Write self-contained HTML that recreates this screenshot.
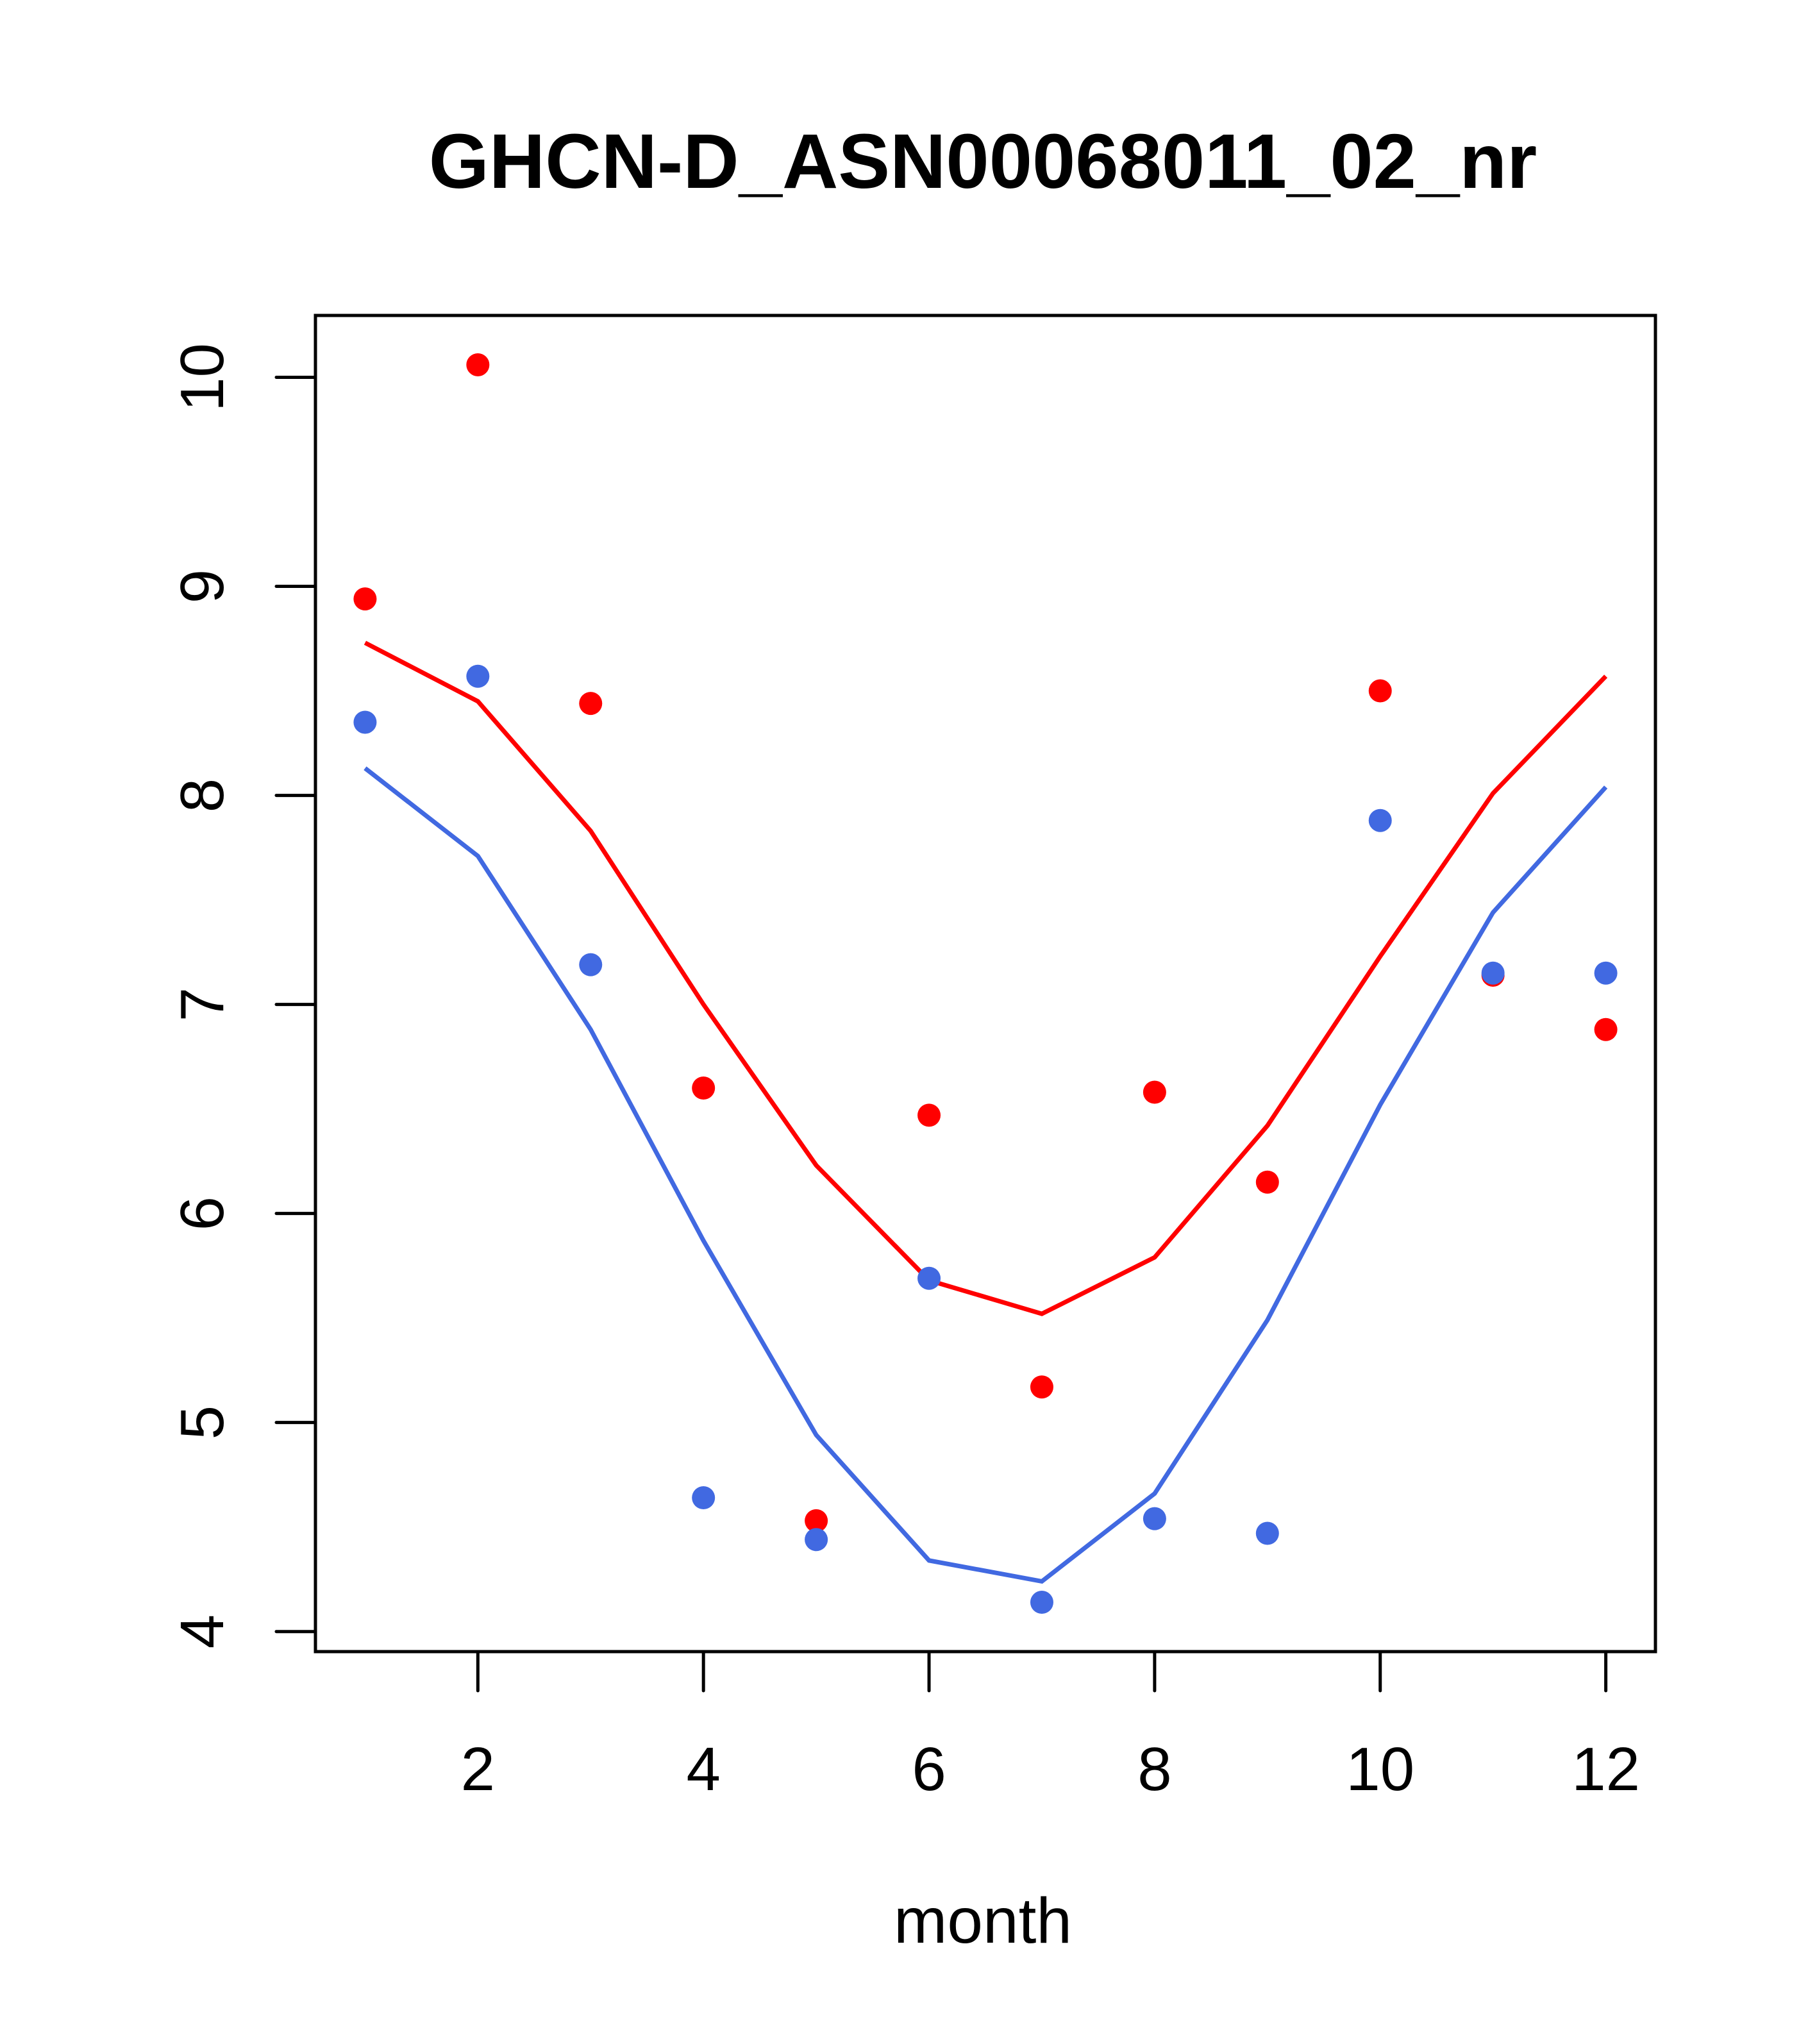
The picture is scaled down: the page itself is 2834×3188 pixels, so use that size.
<!DOCTYPE html>
<html><head><meta charset="utf-8"><style>
html,body{margin:0;padding:0;background:#fff;}
svg{display:block;font-family:"Liberation Sans",Arial,sans-serif;}
</style></head><body>
<svg id="chart" width="2834" height="3188" viewBox="0 0 2834 3188">
<text x="1533" y="293" text-anchor="middle" font-size="121" font-weight="bold">GHCN-D_ASN00068011_02_nr</text>
<rect x="492" y="492" width="2090" height="2084" fill="none" stroke="#000" stroke-width="5"/>
<g id="axes"></g>
<g id="series"></g>
<text x="1533" y="3030" text-anchor="middle" font-size="100">month</text>
</svg>
<script>
const months = [1,2,3,4,5,6,7,8,9,10,11,12];
const redPoints = [8.94,10.06,8.44,6.60,4.53,6.47,5.17,6.58,6.15,8.50,7.14,6.88];
const bluePoints = [8.35,8.57,7.19,4.64,4.44,5.69,4.14,4.54,4.47,7.88,7.15,7.15];
const redLine = [8.73,8.45,7.83,7.00,6.23,5.68,5.52,5.79,6.42,7.23,8.01,8.57];
const blueLine = [8.13,7.71,6.88,5.87,4.94,4.34,4.24,4.66,5.49,6.52,7.44,8.04];
const xTicks = [2,4,6,8,10,12];
const yTicks = [4,5,6,7,8,9,10];

const NS = "http://www.w3.org/2000/svg";
const X0=492, X1=2582, Y0=492, Y1=2576;
const xmin=0.56, xmax=12.44, ymin=3.904, ymax=10.296;
function xs(v){return X0+(v-xmin)/(xmax-xmin)*(X1-X0);}
function ys(v){return Y1-(v-ymin)/(ymax-ymin)*(Y1-Y0);}
function mk(tag,attrs,parent){const e=document.createElementNS(NS,tag);for(const k in attrs)e.setAttribute(k,attrs[k]);parent.appendChild(e);return e;}
const axes=document.getElementById('axes'), series=document.getElementById('series');

xTicks.forEach(t=>{
  const l=mk('line',{x1:xs(t),x2:xs(t),y1:Y1,y2:Y1+61,stroke:'#000','stroke-width':5,'stroke-linecap':'round'},axes);
  
  
  const tx=mk('text',{x:xs(t),y:2792,'text-anchor':'middle','font-size':96},axes);
  tx.textContent=t;
  
  
});
yTicks.forEach(t=>{
  const l=mk('line',{x1:X0,x2:X0-61,y1:ys(t),y2:ys(t),stroke:'#000','stroke-width':5,'stroke-linecap':'round'},axes);
  
  
  const tx=mk('text',{x:0,y:0,'text-anchor':'middle','font-size':96,transform:`translate(348,${ys(t)}) rotate(-90)`},axes);
  tx.textContent=t;
  
  
});
function line(vals,color,name){
  const p=mk('polyline',{points:vals.map((v,i)=>xs(months[i])+','+ys(v)).join(' '),fill:'none',stroke:color,'stroke-width':7},series);
  
  
}
function pts(vals,color,name){
  vals.forEach((v,i)=>{
    const c=mk('circle',{cx:xs(months[i]),cy:ys(v),r:18,fill:color},series);
    
    
  });
}
line(redLine,'#ff0000','red-line');
line(blueLine,'#4169e1','blue-line');
pts(redPoints,'#ff0000','red-point');
pts(bluePoints,'#4169e1','blue-point');
</script>
</body></html>
